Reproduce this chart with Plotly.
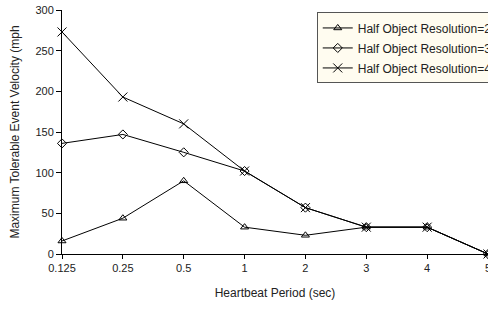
import plotly.graph_objects as go

periods = ["0.125", "0.25", "0.5", "1", "2", "3", "4", "5"]
res2 = [16, 44, 90, 33, 23, 33, 33, 0]
res3 = [136, 147, 125, 102, 57, 33, 33, 0]
res4 = [273, 193, 160, 102, 57, 33, 33, 0]
names = ["Half Object Resolution=2", "Half Object Resolution=3", "Half Object Resolution=4"]
symbols = ["triangle-up-open", "diamond-open", "x-thin-open"]

fig = go.Figure()
for i, (vals, name, sym) in enumerate(zip([res2, res3, res4], names, symbols)):
    fig.add_trace(go.Scatter(
        x=periods, y=vals, name=name, mode="lines+markers",
        line=dict(color="black", width=1),
        marker=dict(symbol=sym, size=7 if i != 2 else 9, color="black",
                    line=dict(color="black", width=1)),
        legendgroup=f"g{i}", cliponaxis=False,
    ))

font = "Liberation Sans, Arial, sans-serif"
fig.update_layout(
    width=500, height=309,
    margin=dict(l=62, r=12, t=10, b=55, autoexpand=False),
    paper_bgcolor="white", plot_bgcolor="white",
    font=dict(family=font, size=11, color="#222"),
    showlegend=True,
    legend=dict(
        x=0.598, y=0.99, xanchor="left", yanchor="top",
        bgcolor="#fffcf0", bordercolor="#555", borderwidth=1,
        font=dict(size=12, color="#222"),
        traceorder="grouped", tracegroupgap=1,
        itemwidth=30,
    ),
    xaxis=dict(
        type="category", range=[0, 7], automargin=False,
        showline=True, linecolor="black", linewidth=1,
        ticks="outside", ticklen=4, tickcolor="black",
        showgrid=False, zeroline=False,
        title=dict(text="Heartbeat Period (sec)", font=dict(size=12), standoff=15),
        tickfont=dict(size=11),
    ),
    yaxis=dict(
        range=[0, 300], tickvals=[0, 50, 100, 150, 200, 250, 300], automargin=False,
        showline=True, linecolor="black", linewidth=1,
        ticks="outside", ticklen=5, tickcolor="black",
        showgrid=False, zeroline=False,
        title=dict(text="Maximum Tolerable Event Velocity (mph", font=dict(size=12), standoff=13),
        tickfont=dict(size=11),
    ),
)

fig.write_html(
    "out.html",
    config={"displayModeBar": False},
    post_script="document.body.style.margin='0';document.body.style.overflow='hidden';",
)
